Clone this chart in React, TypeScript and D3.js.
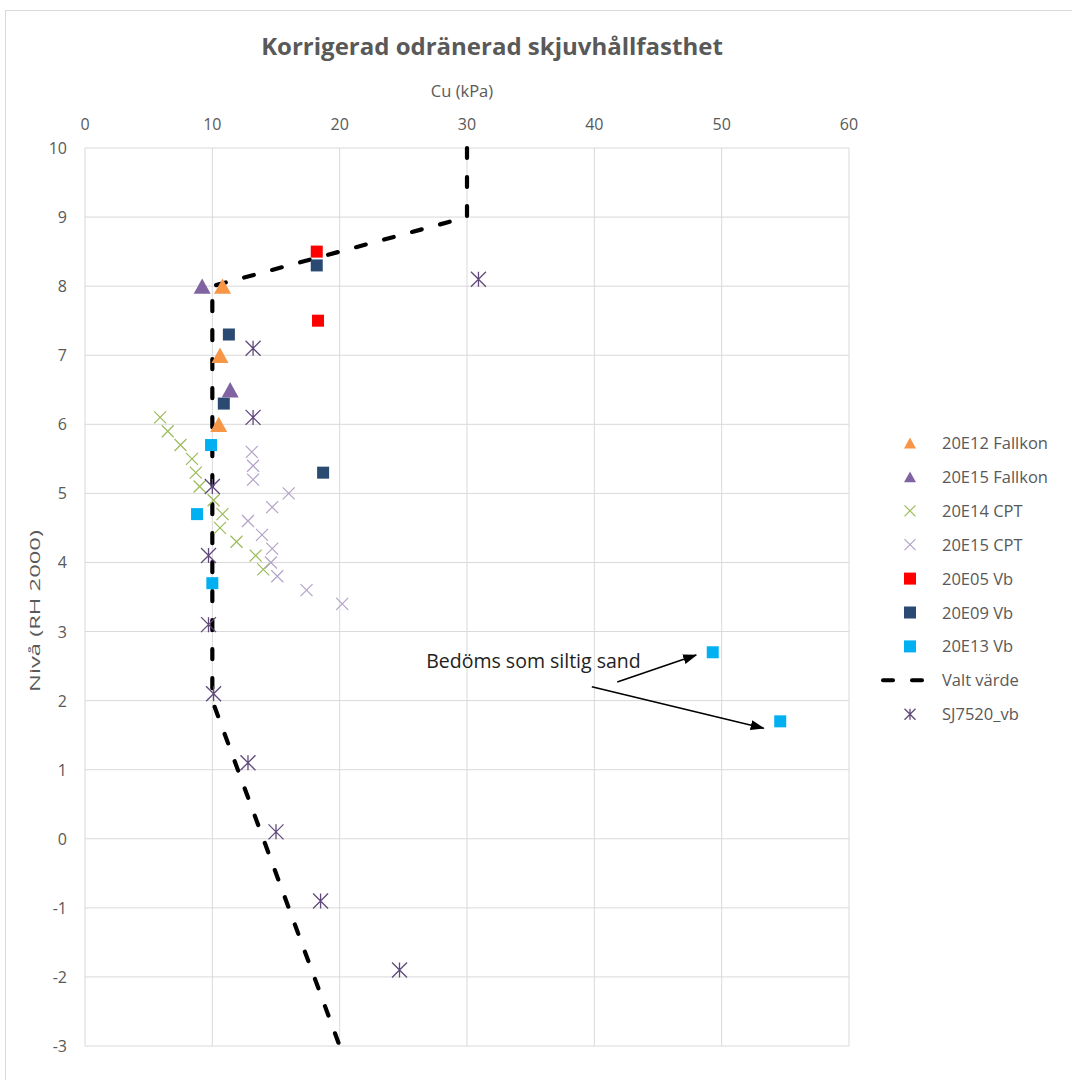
import React from "react";
import * as d3 from "d3";

// data
const fallkon12 = [
  { cu: 10.8, z: 8.0 },
  { cu: 10.6, z: 7.0 },
  { cu: 10.5, z: 6.0 },
];
const fallkon15 = [
  { cu: 9.2, z: 8.0 },
  { cu: 11.4, z: 6.5 },
];
const cpt14 = [
  { cu: 5.9, z: 6.1 },
  { cu: 6.5, z: 5.9 },
  { cu: 7.5, z: 5.7 },
  { cu: 8.4, z: 5.5 },
  { cu: 8.7, z: 5.3 },
  { cu: 9.0, z: 5.1 },
  { cu: 10.1, z: 4.9 },
  { cu: 10.8, z: 4.7 },
  { cu: 10.6, z: 4.5 },
  { cu: 11.9, z: 4.3 },
  { cu: 13.4, z: 4.1 },
  { cu: 14.0, z: 3.9 },
];
const cpt15 = [
  { cu: 13.1, z: 5.6 },
  { cu: 13.2, z: 5.4 },
  { cu: 13.2, z: 5.2 },
  { cu: 16.0, z: 5.0 },
  { cu: 14.7, z: 4.8 },
  { cu: 12.8, z: 4.6 },
  { cu: 13.9, z: 4.4 },
  { cu: 14.7, z: 4.2 },
  { cu: 14.6, z: 4.0 },
  { cu: 15.1, z: 3.8 },
  { cu: 17.4, z: 3.6 },
  { cu: 20.2, z: 3.4 },
];
const vb05 = [
  { cu: 18.2, z: 8.5 },
  { cu: 18.3, z: 7.5 },
];
const vb09 = [
  { cu: 18.2, z: 8.3 },
  { cu: 11.3, z: 7.3 },
  { cu: 10.9, z: 6.3 },
  { cu: 18.7, z: 5.3 },
];
const vb13 = [
  { cu: 9.9, z: 5.7 },
  { cu: 8.8, z: 4.7 },
  { cu: 10.0, z: 3.7 },
  { cu: 49.3, z: 2.7 },
  { cu: 54.6, z: 1.7 },
];
const valtVarde = [
  { cu: 30, z: 10 },
  { cu: 30, z: 9 },
  { cu: 10, z: 8 },
  { cu: 10, z: 2 },
  { cu: 20, z: -3 },
];
const sj7520 = [
  { cu: 30.9, z: 8.1 },
  { cu: 13.2, z: 7.1 },
  { cu: 13.2, z: 6.1 },
  { cu: 10.0, z: 5.1 },
  { cu: 9.7, z: 4.1 },
  { cu: 9.7, z: 3.1 },
  { cu: 10.1, z: 2.1 },
  { cu: 12.8, z: 1.1 },
  { cu: 15.0, z: 0.1 },
  { cu: 18.5, z: -0.9 },
  { cu: 24.7, z: -1.9 },
];
const xTicks = [0, 10, 20, 30, 40, 50, 60];
const yTicks = [10, 9, 8, 7, 6, 5, 4, 3, 2, 1, 0, -1, -2, -3];

const FONT = "'Open Sans', 'Noto Sans', sans-serif";
const GRID = "#d9d9d9";
const TXT = "#595959";

type Shape = "tri" | "sq" | "x" | "star" | "dash";

function Marker({ shape, color, x, y, s }: { shape: Shape; color: string; x: number; y: number; s: number }) {
  if (shape === "tri") {
    const h = s * 0.9;
    return <path d={`M${x},${y - h / 2}L${x + s / 2},${y + h / 2}L${x - s / 2},${y + h / 2}Z`} fill={color} />;
  }
  if (shape === "sq") {
    return <rect x={x - s / 2} y={y - s / 2} width={s} height={s} fill={color} />;
  }
  if (shape === "x") {
    const r = s / 2;
    return (
      <path d={`M${x - r},${y - r}L${x + r},${y + r}M${x - r},${y + r}L${x + r},${y - r}`} stroke={color} strokeWidth={1.2} fill="none" />
    );
  }
  if (shape === "star") {
    const r = s / 2;
    return (
      <path
        d={`M${x - r},${y - r}L${x + r},${y + r}M${x - r},${y + r}L${x + r},${y - r}M${x},${y - r}L${x},${y + r}`}
        stroke={color}
        strokeWidth={1.3}
        fill="none"
      />
    );
  }
  return null;
}

const series = [
  { name: "20E12 Fallkon", data: fallkon12, shape: "tri" as Shape, color: "#f79646", s: 17, ls: 12 },
  { name: "20E15 Fallkon", data: fallkon15, shape: "tri" as Shape, color: "#8064a2", s: 17, ls: 12 },
  { name: "20E14 CPT", data: cpt14, shape: "x" as Shape, color: "#9bbb59", s: 12, ls: 11 },
  { name: "20E15 CPT", data: cpt15, shape: "x" as Shape, color: "#b3a2c7", s: 12, ls: 11 },
  { name: "20E05 Vb", data: vb05, shape: "sq" as Shape, color: "#ff0000", s: 12, ls: 12 },
  { name: "20E09 Vb", data: vb09, shape: "sq" as Shape, color: "#2a4a73", s: 12, ls: 12 },
  { name: "20E13 Vb", data: vb13, shape: "sq" as Shape, color: "#00b0f0", s: 12, ls: 12 },
  { name: "Valt värde", data: valtVarde, shape: "dash" as Shape, color: "#000000", s: 0, ls: 0 },
  { name: "SJ7520_vb", data: sj7520, shape: "star" as Shape, color: "#604a7b", s: 15, ls: 11 },
];

export default function App() {
  const W = 1072;
  const H = 1080;
  const x = d3.scaleLinear().domain([0, 60]).range([85, 849]);
  const y = d3.scaleLinear().domain([-3, 10]).range([1046, 148]);

  const line = d3
    .line<{ cu: number; z: number }>()
    .x((d) => x(d.cu))
    .y((d) => y(d.z));

  const drawOrder = ["Valt värde", "20E14 CPT", "20E15 CPT", "SJ7520_vb", "20E05 Vb", "20E09 Vb", "20E13 Vb", "20E15 Fallkon", "20E12 Fallkon"];

  const arrows = [
    { from: [41.8, 2.27], to: [48.0, 2.66] },
    { from: [39.8, 2.2], to: [53.3, 1.6] },
  ];

  return (
    <svg width={W} height={H} style={{ position: "absolute", left: 0, top: 0, background: "#fff" }} fontFamily={FONT}>
      <defs>
        <marker id="arr" viewBox="0 0 14 10" refX="13" refY="5" markerWidth="14" markerHeight="10" orient="auto" markerUnits="userSpaceOnUse">
          <path d="M0,0L14,5L0,10Z" fill="#000" />
        </marker>
      </defs>
      <rect x={5.5} y={10.5} width={W + 10} height={H + 10} fill="#fff" stroke={GRID} />

      <text x={492} y={55} textAnchor="middle" fontSize={24} fontWeight="bold" fill={TXT}>
        Korrigerad odränerad skjuvhållfasthet
      </text>
      <text x={462} y={97} textAnchor="middle" fontSize={16.5} fill={TXT}>
        Cu (kPa)
      </text>
      <text
        transform={`translate(40,611) rotate(-90)`}
        textAnchor="middle"
        fontSize={15}
        fill={TXT}
        textLength={162}
        lengthAdjust="spacingAndGlyphs"
      >
        Nivå (RH 2000)
      </text>

      {/* grid */}
      {xTicks.map((t) => (
        <line key={"gx" + t} x1={x(t)} x2={x(t)} y1={y(10)} y2={y(-3)} stroke={GRID} strokeWidth={1} />
      ))}
      {yTicks.map((t) => (
        <line key={"gy" + t} x1={x(0)} x2={x(60)} y1={y(t)} y2={y(t)} stroke={GRID} strokeWidth={1} />
      ))}
      {xTicks.map((t) => (
        <text key={"tx" + t} x={x(t)} y={130} textAnchor="middle" fontSize={16} fill={TXT}>
          {t}
        </text>
      ))}
      {yTicks.map((t) => (
        <text key={"ty" + t} x={67} y={y(t) + 6} textAnchor="end" fontSize={16} fill={TXT}>
          {t}
        </text>
      ))}

      {/* series */}
      {drawOrder.map((nm) => {
        const s = series.find((q) => q.name === nm)!;
        if (s.shape === "dash") {
          return (
            <path key={nm} d={line(s.data) || ""} fill="none" stroke="#000" strokeWidth={4.2} strokeDasharray="10,19" strokeLinecap="round" />
          );
        }
        return (
          <g key={nm}>
            {s.data.map((d, i) => (
              <Marker key={i} shape={s.shape} color={s.color} x={x(d.cu)} y={y(d.z)} s={s.s} />
            ))}
          </g>
        );
      })}

      {/* annotation */}
      <text x={x(26.8)} y={y(2.47)} fontSize={19.5} fill="#222">
        Bedöms som siltig sand
      </text>
      {arrows.map((a, i) => (
        <line
          key={i}
          x1={x(a.from[0])}
          y1={y(a.from[1])}
          x2={x(a.to[0])}
          y2={y(a.to[1])}
          stroke="#000"
          strokeWidth={1.6}
          markerEnd="url(#arr)"
        />
      ))}

      {/* legend */}
      {series.map((s, i) => {
        const ly = 443 + i * 33.9;
        return (
          <g key={"lg" + s.name}>
            {s.shape === "dash" ? (
              <g>
                <line x1={883} x2={893} y1={ly} y2={ly} stroke="#000" strokeWidth={4} strokeLinecap="round" />
                <line x1={912} x2={922} y1={ly} y2={ly} stroke="#000" strokeWidth={4} strokeLinecap="round" />
              </g>
            ) : (
              <Marker shape={s.shape} color={s.color} x={910} y={ly} s={s.ls} />
            )}
            <text x={942} y={ly + 6} fontSize={16.5} fill={TXT}>
              {s.name}
            </text>
          </g>
        );
      })}
    </svg>
  );
}
